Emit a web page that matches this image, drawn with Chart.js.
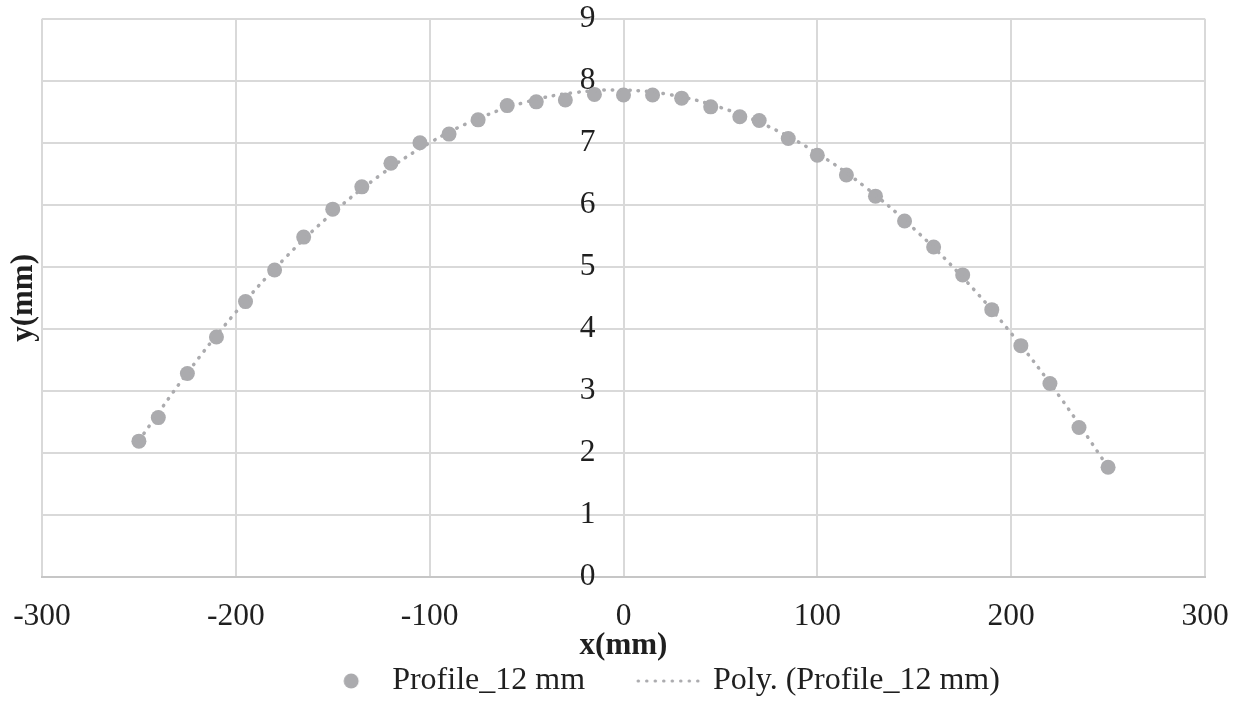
<!DOCTYPE html>
<html>
<head>
<meta charset="utf-8">
<script src="https://cdn.jsdelivr.net/npm/chart.js@4.4.1/dist/chart.umd.min.js"></script>
<style>
  html, body { margin: 0; padding: 0; background: #fff; }
  #wrap { width: 1241px; height: 704px; }
</style>
</head>
<body>
<div id="wrap"><canvas id="chart"></canvas></div>
<script>
const profileX = [-250, -240, -225, -210, -195, -180, -165, -150, -135, -120, -105, -90, -75, -60, -45, -30, -15,
                  0, 15, 30, 45, 60, 70, 85, 100, 115, 130, 145, 160, 175, 190, 205, 220, 235, 250];
const profileY = [2.19, 2.57, 3.28, 3.87, 4.44, 4.95, 5.48, 5.93, 6.29, 6.67, 7.00, 7.14, 7.37, 7.60, 7.66, 7.69, 7.78,
                  7.77, 7.77, 7.72, 7.58, 7.42, 7.36, 7.07, 6.80, 6.48, 6.14, 5.74, 5.32, 4.87, 4.31, 3.73, 3.12, 2.41, 1.77];

// polynomial trend line, sampled off the dotted curve
const trendX = [-250, -225, -200, -175, -150, -125, -100, -75, -50, -25, 0, 25, 50, 75, 100, 125, 150, 175, 200, 225, 250];
const trendY = [2.20, 3.29, 4.27, 5.13, 5.87, 6.49, 7.00, 7.39, 7.66, 7.81, 7.85, 7.77, 7.57, 7.26, 6.83, 6.28, 5.61, 4.83, 3.93, 2.91, 1.77];

const seriesNames = ['Profile_12 mm', 'Poly. (Profile_12 mm)'];

const FONT = "'Liberation Serif', 'Times New Roman', serif";
const INK = '#1f1f1f';
const GRID = '#d9d9d9';
const MARK = '#ababae';

// legend icons, drawn a bit right of the slot centre like the original
const ICON_SHIFT = 26;

function circleIcon() {
    const c = document.createElement('canvas');
    c.width = 2 * (ICON_SHIFT + 10); c.height = 20;
    const g = c.getContext('2d');
    g.fillStyle = MARK;
    g.beginPath();
    g.arc(c.width / 2 + ICON_SHIFT, 10, 7.5, 0, Math.PI * 2);
    g.fill();
    return c;
}

function dotsIcon() {
    const c = document.createElement('canvas');
    c.width = 2 * (ICON_SHIFT + 38); c.height = 10;
    const g = c.getContext('2d');
    g.strokeStyle = MARK;
    g.lineWidth = 3;
    g.lineCap = 'round';
    g.setLineDash([0.5, 8]);
    g.beginPath();
    g.moveTo(c.width / 2 + ICON_SHIFT - 34, 5);
    g.lineTo(c.width / 2 + ICON_SHIFT + 34, 5);
    g.stroke();
    return c;
}

const icons = [circleIcon(), dotsIcon()];

new Chart(document.getElementById('chart'), {
    type: 'scatter',
    data: {
        datasets: [
            {
                label: seriesNames[0],
                data: profileX.map((x, i) => ({ x: x, y: profileY[i] })),
                backgroundColor: MARK,
                borderColor: MARK,
                borderWidth: 0,
                pointRadius: 7.5,
                order: 2
            },
            {
                label: seriesNames[1],
                data: trendX.map((x, i) => ({ x: x, y: trendY[i] })),
                showLine: true,
                pointRadius: 0,
                borderColor: MARK,
                borderWidth: 3.5,
                borderDash: [0.5, 8],
                borderCapStyle: 'round',
                tension: 0.4,
                order: 1
            }
        ]
    },
    options: {
        responsive: true,
        maintainAspectRatio: false,
        devicePixelRatio: 1,
        animation: false,
        events: [],
        // negative right padding widens the legend row so it sits right of centre, as in the original
        layout: { padding: { top: 16, right: -33, bottom: -3, left: 0 } },
        scales: {
            x: {
                type: 'linear',
                position: 'bottom',
                min: -300,
                max: 300,
                ticks: { stepSize: 100, padding: 23.75, color: INK, font: { family: FONT, size: 31.5, lineHeight: 1 } },
                grid: { color: GRID, lineWidth: 2, drawTicks: false },
                border: { color: '#c6c6c6', width: 2 },
                title: {
                    display: true, text: 'x(mm)', color: INK,
                    font: { family: FONT, size: 31, weight: 'bold', lineHeight: 1.2 },
                    padding: { top: -28.6, bottom: -9.6 }
                },
                afterFit: s => { s.paddingLeft = 0; s.paddingRight = 36; }
            },
            y: {
                type: 'linear',
                position: { x: -14.5 },
                min: 0,
                max: 9,
                ticks: { stepSize: 1, color: INK, font: { family: FONT, size: 31.5, lineHeight: 1 } },
                grid: { color: GRID, lineWidth: 2, drawTicks: false },
                border: { display: false }
            },
            yTitle: {
                type: 'linear',
                position: 'left',
                ticks: { display: false },
                grid: { display: false, drawTicks: false },
                border: { display: false },
                title: {
                    display: true, text: 'y(mm)', color: INK,
                    font: { family: FONT, size: 31, weight: 'bold', lineHeight: 1.2 },
                    padding: { top: 5.4, bottom: -0.6 }
                },
                afterFit: s => { s.width = 42; }
            }
        },
        plugins: {
            tooltip: { enabled: false },
            legend: {
                position: 'bottom',
                labels: {
                    usePointStyle: true,
                    pointStyleWidth: 102,
                    padding: 10,
                    color: INK,
                    font: { family: FONT, size: 32 },
                    generateLabels: () => seriesNames.map((name, i) => ({
                        text: name,
                        pointStyle: icons[i],
                        fillStyle: MARK,
                        strokeStyle: MARK,
                        lineWidth: 0,
                        fontColor: INK,
                        hidden: false,
                        datasetIndex: i
                    }))
                }
            }
        }
    }
});
</script>
</body>
</html>
